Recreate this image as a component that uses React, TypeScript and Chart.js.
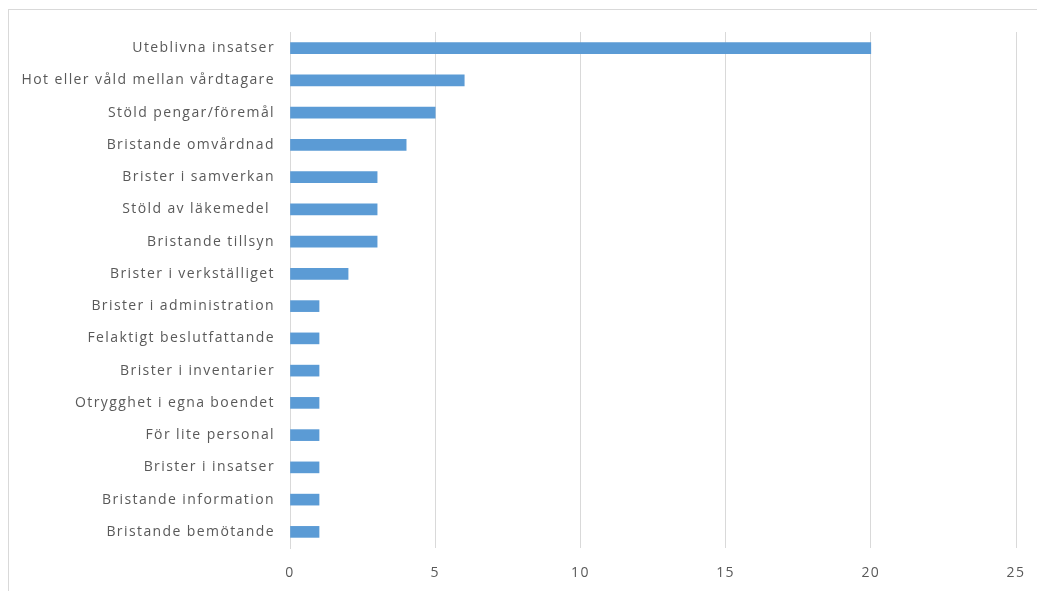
import React, { useEffect, useRef } from "react";
import { Chart, registerables } from "chart.js";

Chart.register(...registerables);

const categories = [
  "Uteblivna insatser",
  "Hot eller våld mellan vårdtagare",
  "Stöld pengar/föremål",
  "Bristande omvårdnad",
  "Brister i samverkan",
  "Stöld av läkemedel ",
  "Bristande tillsyn",
  "Brister i verkställiget",
  "Brister i administration",
  "Felaktigt beslutfattande",
  "Brister i inventarier",
  "Otrygghet i egna boendet",
  "För lite personal",
  "Brister i insatser",
  "Bristande information",
  "Bristande bemötande",
];

const values = [20, 6, 5, 4, 3, 3, 3, 2, 1, 1, 1, 1, 1, 1, 1, 1];

const xTicks = [0, 5, 10, 15, 20, 25];

const spacingPlugin = {
  id: "spacing",
  beforeDraw: (chart: any) => {
    (chart.ctx as any).letterSpacing = "1.4px";
  },
  afterDraw: (chart: any) => {
    (chart.ctx as any).letterSpacing = "0px";
  },
};

const noPad = (axis: any) => {
  axis.paddingTop = 0;
  axis.paddingBottom = 0;
  axis.paddingLeft = 0;
  axis.paddingRight = 0;
};

export default function App() {
  const ref = useRef<HTMLCanvasElement | null>(null);

  useEffect(() => {
    if (!ref.current) return;
    const chart = new Chart(ref.current, {
      type: "bar",
      data: {
        labels: categories,
        datasets: [
          {
            data: values,
            backgroundColor: "#5B9BD5",
            barThickness: 11,
          },
        ],
      },
      plugins: [spacingPlugin],
      options: {
        indexAxis: "y",
        animation: false,
        responsive: false,
        maintainAspectRatio: false,
        layout: { padding: { top: 22, right: 21, left: 0, bottom: 0 } },
        plugins: { legend: { display: false }, tooltip: { enabled: false } },
        scales: {
          x: {
            min: 0,
            max: 25,
            afterBuildTicks: (axis: any) => {
              axis.ticks = xTicks.map((v) => ({ value: v }));
            },
            afterFit: (axis: any) => {
              axis.height = 43;
              noPad(axis);
            },
            grid: { color: "#d9d9d9", drawTicks: false },
            border: { display: false },
            ticks: {
              padding: 17,
              color: "#595959",
              font: { family: "Open Sans", size: 14 },
            },
          },
          y: {
            afterFit: (axis: any) => {
              axis.width = 281;
              noPad(axis);
            },
            grid: { display: false, drawTicks: false },
            border: { display: true, color: "#d9d9d9" },
            ticks: {
              padding: 15,
              color: "#595959",
              font: { family: "Open Sans", size: 14 },
            },
          },
        },
      },
    });
    return () => chart.destroy();
  }, []);

  return (
    <div style={{ position: "fixed", inset: 0, overflow: "hidden" }}>
      <div
        style={{
          position: "absolute",
          left: 8,
          top: 9,
          borderTop: "1px solid #d9d9d9",
          borderLeft: "1px solid #d9d9d9",
          width: 1100,
          height: 700,
        }}
      >
        <canvas ref={ref} width={1028} height={581} style={{ display: "block" }} />
      </div>
    </div>
  );
}
